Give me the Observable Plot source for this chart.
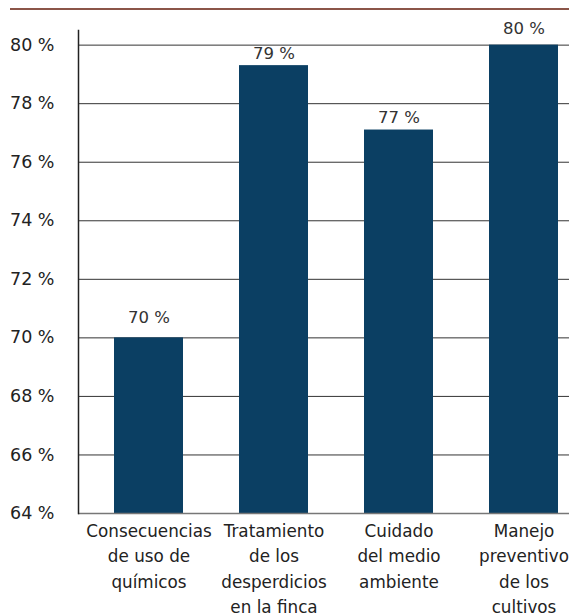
<!DOCTYPE html>
<html><head><meta charset="utf-8">
<script src="https://cdn.jsdelivr.net/npm/d3@7"></script>
<script src="https://cdn.jsdelivr.net/npm/@observablehq/plot@0.6"></script>
<style>
body{margin:0;background:#fff;}
#rule{position:absolute;left:10px;top:8px;width:559px;height:0;border-top:2px solid #8b5548;}
#chart{position:absolute;left:0;top:0;}
</style></head>
<body><div id="rule"></div><div id="chart"></div>
<script>
const categories = ["Consecuencias\nde uso de\nquímicos","Tratamiento\nde los\ndesperdicios\nen la finca","Cuidado\ndel medio\nambiente","Manejo\npreventivo\nde los\ncultivos"];
const values = [70, 79.3, 77.1, 80];
const valueLabels = ["70 %","79 %","77 %","80 %"];
const yTicks = [64,66,68,70,72,74,76,78,80];
const data = categories.map((c,i)=>({cat:c, v:values[i], label:valueLabels[i]}));
const labelOffsets = [-20.5, -12, -12.5, -16];
const font = "'DejaVu Sans', sans-serif";
const chart = Plot.plot({
  width: 569, height: 616,
  marginTop: 30, marginBottom: 103, marginLeft: 78, marginRight: 0,
  style: {fontFamily: font, background: "transparent"},
  x: {domain: categories, range: [78, 593], paddingInner: 0.452, paddingOuter: 0.27, label: null},
  y: {domain: [64, 80.5], label: null, ticks: yTicks},
  marks: [
    Plot.gridY(yTicks, {stroke: "#333", strokeOpacity: 1, strokeWidth: 1}),
    Plot.barY(data, {x: "cat", y1: 64, y2: "v", fill: "#0b3f63"}),
    ...data.map((d, i) => Plot.text([d], {x: "cat", y: "v", text: "label", dy: labelOffsets[i], fontSize: 16.5, fill: "#333"})),
    Plot.ruleY([64], {stroke: "#777", strokeWidth: 1.5}),
    Plot.frame({anchor: "left", stroke: "#222", strokeWidth: 1.5}),
    Plot.axisY(yTicks, {tickSize: 0, tickPadding: 24, tickFormat: d => d + " %", fontSize: 17.5, fill: "#222"}),
    Plot.axisX({tickSize: 0, tickPadding: 5, fontSize: 16.8, lineHeight: 1.52, fill: "#222", label: null})
  ]
});
document.getElementById("chart").appendChild(chart);
</script></body></html>
